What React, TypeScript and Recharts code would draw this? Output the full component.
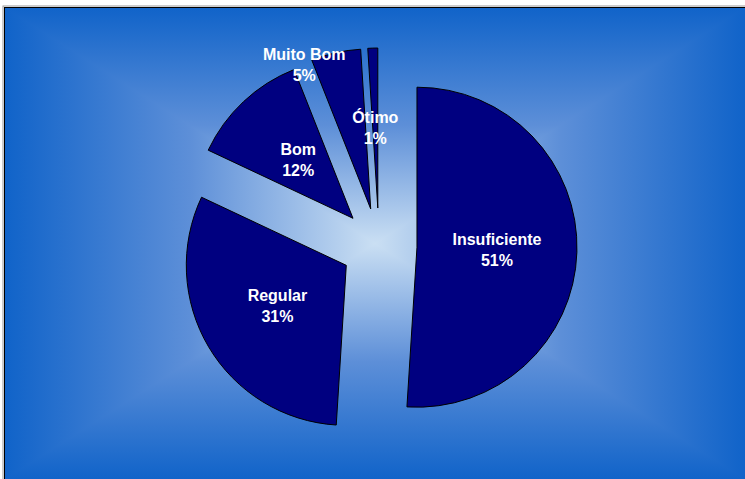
import React from 'react';
import { PieChart, Pie, Cell, Sector } from 'recharts';

const categories = ['Insuficiente', 'Regular', 'Bom', 'Muito Bom', 'Ótimo'];
const values = [51, 31, 12, 5, 1];

const data = categories.map((name, i) => ({ name, value: values[i] }));

const W = 745;
const H = 479;
const EXPLODE = 38;
const RADIAN = Math.PI / 180;
// manual label moves (like a dragged data label)
const labelNudge: Record<number, [number, number]> = { 3: [-49, -66] };

const FONT = '"Liberation Sans", Arial, sans-serif';

const offsetFor = (midAngle: number) => ({
  dx: EXPLODE * Math.cos(-midAngle * RADIAN),
  dy: EXPLODE * Math.sin(-midAngle * RADIAN),
});

const renderSector = (props: any) => {
  const { cx, cy, outerRadius, startAngle, endAngle, midAngle, index } = props;
  const { dx, dy } = offsetFor(midAngle);
  return (
    <Sector
      key={`s-${index}`}
      cx={cx + dx}
      cy={cy + dy}
      innerRadius={0}
      outerRadius={outerRadius}
      startAngle={startAngle}
      endAngle={endAngle}
      fill="#000080"
      stroke="#000000"
      strokeWidth={1}
    />
  );
};

const renderText = (props: any) => {
  const { cx, cy, outerRadius, midAngle, index, name, percent } = props;
  const { dx, dy } = offsetFor(midAngle);
  const r = outerRadius * 0.5;
  let x = cx + dx + r * Math.cos(-midAngle * RADIAN);
  let y = cy + dy + r * Math.sin(-midAngle * RADIAN);
  const n = labelNudge[index];
  if (n) {
    x += n[0];
    y += n[1];
  }
  return (
    <text
      key={`t-${index}`}
      x={x}
      y={y}
      textAnchor="middle"
      fill="#ffffff"
      fontFamily={FONT}
      fontWeight="bold"
      fontSize={16}
    >
      <tspan x={x} y={y - 5}>{name}</tspan>
      <tspan x={x} y={y + 16}>{`${Math.round(percent * 100)}%`}</tspan>
    </text>
  );
};

function Background() {
  const x0 = 4, y0 = 7, x1 = 746, y1 = 480;
  const cx = (x0 + x1) / 2, cy = (y0 + y1) / 2;
  const edge = '#1063c9';
  const mid = '#5d8fd8';
  const center = '#cadff3';
  const stops = (
    <>
      <stop offset="0" stopColor={edge} />
      <stop offset="0.5" stopColor={mid} />
      <stop offset="1" stopColor={center} />
    </>
  );
  return (
    <svg width={W} height={H} style={{ position: 'absolute', left: 0, top: 0 }}>
      <defs>
        <linearGradient id="gTop" gradientUnits="userSpaceOnUse" x1={0} y1={y0} x2={0} y2={cy}>{stops}</linearGradient>
        <linearGradient id="gBot" gradientUnits="userSpaceOnUse" x1={0} y1={y1} x2={0} y2={cy}>{stops}</linearGradient>
        <linearGradient id="gLeft" gradientUnits="userSpaceOnUse" x1={x0} y1={0} x2={cx} y2={0}>{stops}</linearGradient>
        <linearGradient id="gRight" gradientUnits="userSpaceOnUse" x1={x1} y1={0} x2={cx} y2={0}>{stops}</linearGradient>
      </defs>
      <rect x={0} y={0} width={W} height={H} fill="#ffffff" />
      <rect x={x0} y={y0} width={x1 - x0} height={y1 - y0} fill="url(#gTop)" shapeRendering="crispEdges" />
      <g shapeRendering="crispEdges">
        <polygon points={`${x0},${y1} ${x1},${y1} ${cx},${cy}`} fill="url(#gBot)" />
        <polygon points={`${x0},${y0} ${x0},${y1} ${cx},${cy}`} fill="url(#gLeft)" />
        <polygon points={`${x1},${y0} ${x1},${y1} ${cx},${cy}`} fill="url(#gRight)" />
      </g>
      <rect x={3} y={6} width={x1} height={y1} fill="none" stroke="#9a9a9a" strokeWidth={1} />
      <rect x={x0 + 0.5} y={y0 + 0.5} width={x1} height={y1} fill="none" stroke="#000000" strokeWidth={1} />
    </svg>
  );
}

export default function App() {
  return (
    <div style={{ position: 'absolute', left: 0, top: 0, width: W, height: H, overflow: 'hidden' }}>
      <Background />
      <div style={{ position: 'absolute', left: 0, top: 0 }}>
        <PieChart width={W} height={H} margin={{ top: 0, right: 0, bottom: 0, left: 0 }}>
          <Pie
            data={data}
            dataKey="value"
            nameKey="name"
            cx={379}
            cy={246}
            outerRadius={160}
            startAngle={90}
            endAngle={-270}
            isAnimationActive={false}
            labelLine={false}
            label={renderSector}
            stroke="none"
          >
            {data.map((d, i) => (
              <Cell key={i} fill="none" stroke="none" />
            ))}
          </Pie>
          <Pie
            data={data}
            dataKey="value"
            nameKey="name"
            cx={379}
            cy={246}
            outerRadius={160}
            startAngle={90}
            endAngle={-270}
            isAnimationActive={false}
            labelLine={false}
            label={renderText}
            stroke="none"
          >
            {data.map((d, i) => (
              <Cell key={i} fill="none" stroke="none" />
            ))}
          </Pie>
        </PieChart>
      </div>
    </div>
  );
}
